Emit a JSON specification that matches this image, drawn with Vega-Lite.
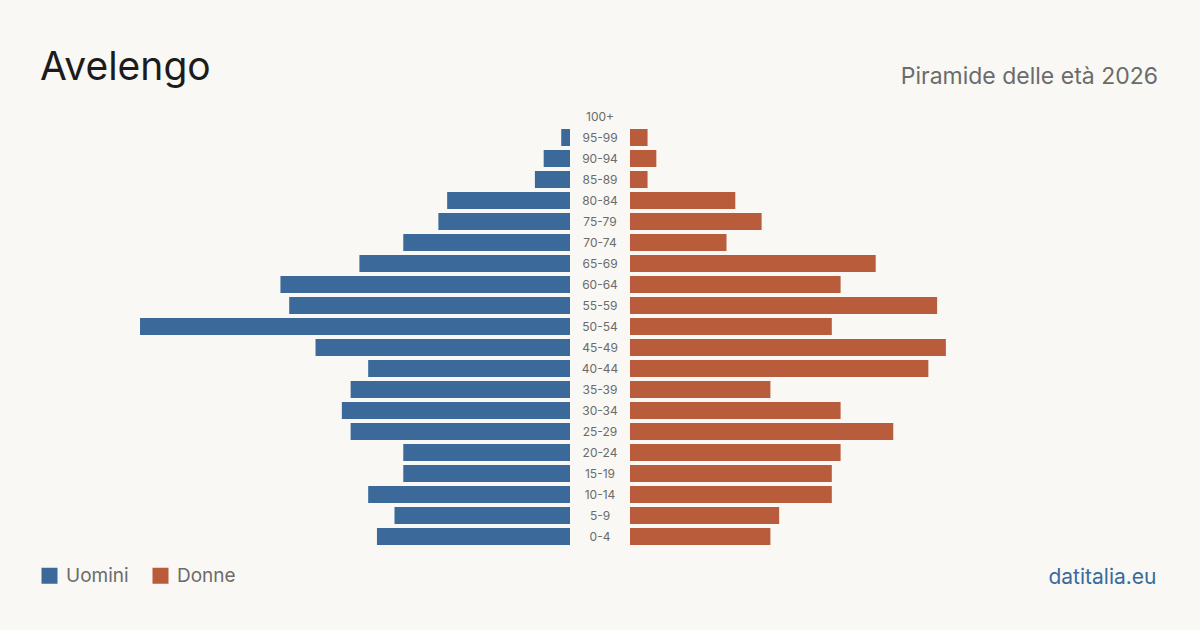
{
  "$schema": "https://vega.github.io/schema/vega-lite/v6.json",
  "background": "#f9f8f4",
  "padding": {"left": 40, "right": 40, "top": 49, "bottom": 43},
  "config": {
    "view": {"stroke": null},
    "font": "Inter",
    "concat": {"spacing": 0}
  },
  "data": {
    "values": [
      {"age": "100+", "sex": "Uomini", "value": 0}, {"age": "100+", "sex": "Donne", "value": 0},
      {"age": "95-99", "sex": "Uomini", "value": 1}, {"age": "95-99", "sex": "Donne", "value": 2},
      {"age": "90-94", "sex": "Uomini", "value": 3}, {"age": "90-94", "sex": "Donne", "value": 3},
      {"age": "85-89", "sex": "Uomini", "value": 4}, {"age": "85-89", "sex": "Donne", "value": 2},
      {"age": "80-84", "sex": "Uomini", "value": 14}, {"age": "80-84", "sex": "Donne", "value": 12},
      {"age": "75-79", "sex": "Uomini", "value": 15}, {"age": "75-79", "sex": "Donne", "value": 15},
      {"age": "70-74", "sex": "Uomini", "value": 19}, {"age": "70-74", "sex": "Donne", "value": 11},
      {"age": "65-69", "sex": "Uomini", "value": 24}, {"age": "65-69", "sex": "Donne", "value": 28},
      {"age": "60-64", "sex": "Uomini", "value": 33}, {"age": "60-64", "sex": "Donne", "value": 24},
      {"age": "55-59", "sex": "Uomini", "value": 32}, {"age": "55-59", "sex": "Donne", "value": 35},
      {"age": "50-54", "sex": "Uomini", "value": 49}, {"age": "50-54", "sex": "Donne", "value": 23},
      {"age": "45-49", "sex": "Uomini", "value": 29}, {"age": "45-49", "sex": "Donne", "value": 36},
      {"age": "40-44", "sex": "Uomini", "value": 23}, {"age": "40-44", "sex": "Donne", "value": 34},
      {"age": "35-39", "sex": "Uomini", "value": 25}, {"age": "35-39", "sex": "Donne", "value": 16},
      {"age": "30-34", "sex": "Uomini", "value": 26}, {"age": "30-34", "sex": "Donne", "value": 24},
      {"age": "25-29", "sex": "Uomini", "value": 25}, {"age": "25-29", "sex": "Donne", "value": 30},
      {"age": "20-24", "sex": "Uomini", "value": 19}, {"age": "20-24", "sex": "Donne", "value": 24},
      {"age": "15-19", "sex": "Uomini", "value": 19}, {"age": "15-19", "sex": "Donne", "value": 23},
      {"age": "10-14", "sex": "Uomini", "value": 23}, {"age": "10-14", "sex": "Donne", "value": 23},
      {"age": "5-9", "sex": "Uomini", "value": 20}, {"age": "5-9", "sex": "Donne", "value": 17},
      {"age": "0-4", "sex": "Uomini", "value": 22}, {"age": "0-4", "sex": "Donne", "value": 16}
    ]
  },
  "hconcat": [
    {
      "width": 530,
      "height": 441,
      "title": {"text": "Avelengo", "anchor": "start", "fontSize": 39, "fontWeight": "normal", "color": "#1c1c1c", "offset": 18, "font": "Inter"},
      "transform": [{"filter": "datum.sex === 'Uomini'"}],
      "mark": {"type": "bar"},
      "encoding": {
        "y": {"field": "age", "type": "nominal", "axis": null,
          "sort": ["100+", "95-99", "90-94", "85-89", "80-84", "75-79", "70-74", "65-69", "60-64", "55-59", "50-54", "45-49", "40-44", "35-39", "30-34", "25-29", "20-24", "15-19", "10-14", "5-9", "0-4"],
          "scale": {"paddingInner": 0.19, "paddingOuter": 0.095}},
        "x": {"field": "value", "type": "quantitative", "axis": null,
          "scale": {"domain": [0, 60.4], "nice": false, "reverse": true}},
        "color": {"field": "sex", "type": "nominal",
          "scale": {"domain": ["Uomini", "Donne"], "range": ["#3b6a9a", "#b95c3c"]},
          "legend": {"orient": "none", "legendX": 0, "legendY": 460, "direction": "horizontal", "title": null,
            "symbolType": "square", "symbolSize": 256, "symbolStrokeWidth": 0, "labelFontSize": 19,
            "labelColor": "#6b6b6b", "labelFont": "Inter", "labelOffset": 7, "columnPadding": 22}}
      }
    },
    {
      "width": 60,
      "height": 441,
      "transform": [{"filter": "datum.sex === 'Uomini'"}],
      "mark": {"type": "text", "fontSize": 12, "color": "#6b6b6b", "align": "center", "baseline": "middle"},
      "encoding": {
        "y": {"field": "age", "type": "nominal", "axis": null,
          "sort": ["100+", "95-99", "90-94", "85-89", "80-84", "75-79", "70-74", "65-69", "60-64", "55-59", "50-54", "45-49", "40-44", "35-39", "30-34", "25-29", "20-24", "15-19", "10-14", "5-9", "0-4"],
          "scale": {"paddingInner": 0.19, "paddingOuter": 0.095}},
        "text": {"field": "age"}
      }
    },
    {
      "width": 530,
      "height": 441,
      "title": {"text": "Piramide delle età 2026", "anchor": "end", "fontSize": 23, "fontWeight": "normal", "color": "#6b6b6b", "offset": 17, "font": "Inter", "dx": -2},
      "transform": [{"filter": "datum.sex === 'Donne'"}],
      "mark": {"type": "bar"},
      "encoding": {
        "y": {"field": "age", "type": "nominal", "axis": null,
          "sort": ["100+", "95-99", "90-94", "85-89", "80-84", "75-79", "70-74", "65-69", "60-64", "55-59", "50-54", "45-49", "40-44", "35-39", "30-34", "25-29", "20-24", "15-19", "10-14", "5-9", "0-4"],
          "scale": {"paddingInner": 0.19, "paddingOuter": 0.095}},
        "x": {"field": "value", "type": "quantitative",
          "scale": {"domain": [0, 60.4], "nice": false},
          "axis": {"orient": "bottom", "labels": false, "ticks": false, "domain": false, "grid": false,
            "title": "datitalia.eu", "titleAnchor": "end", "titleFontSize": 21, "titleFontWeight": "normal",
            "titleColor": "#3a6a9e", "titleFont": "Inter", "titlePadding": 19, "titleX": 526}},
        "color": {"field": "sex", "type": "nominal",
          "scale": {"domain": ["Uomini", "Donne"], "range": ["#3b6a9a", "#b95c3c"]}}
      }
    }
  ],
  "resolve": {"scale": {"color": "shared"}}
}
